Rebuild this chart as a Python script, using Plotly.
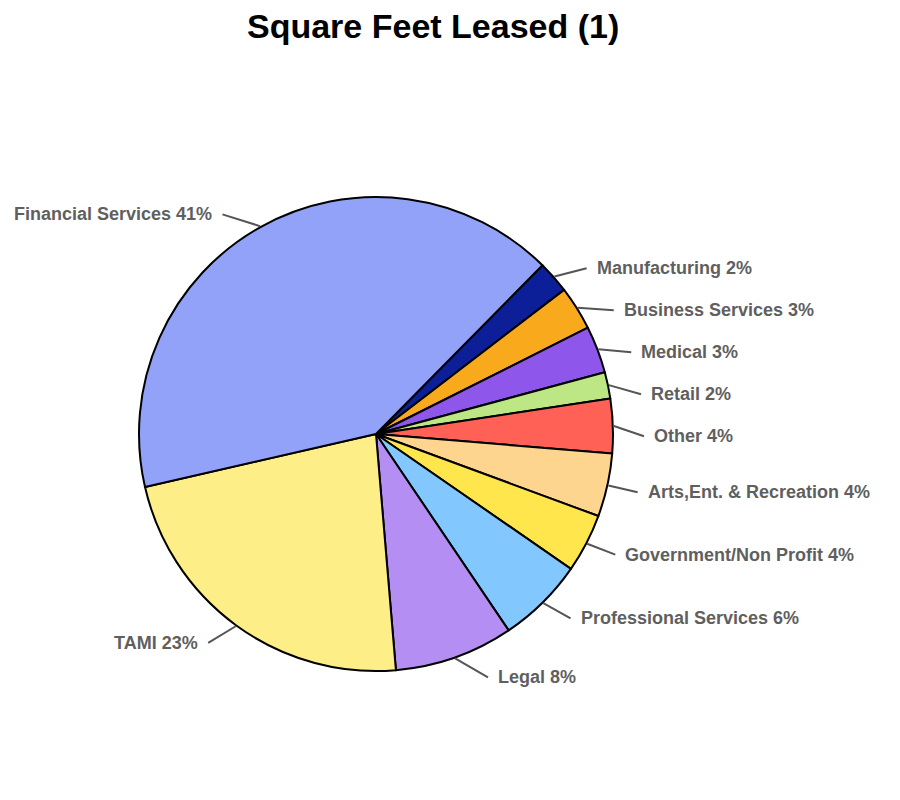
import math
import plotly.graph_objects as go

# slices in clockwise order, starting just right of 12 o'clock + rotation
LABELS = [
    'Manufacturing', 'Business Services', 'Medical', 'Retail', 'Other',
    'Arts,Ent. & Recreation', 'Government/Non Profit', 'Professional Services',
    'Legal', 'TAMI', 'Financial Services'
]
VALUES = [2.2, 3.0, 3.2, 1.8, 3.7, 4.3, 4.0, 5.9, 8.1, 22.7, 40.9]
COLORS = [
    '#0c1f99', '#f9aa1c', '#8f56eb', '#bce784', '#ff6156',
    '#fdd58f', '#ffe64d', '#82c8fe', '#b48ef2', '#feee88', '#91a2f8'
]

W, H = 900, 800
PAGE_OFFSET = 8  # body margin of the html page
CX, CY, R = 376 - PAGE_OFFSET, 434 - PAGE_OFFSET, 237
ROTATION = 44.6
LABEL_Y_R = 255
LABEL_Y_SHIFT = 3
LABEL_X_R = 268
MIN_GAP = 42


def px_to_paper(x, y):
    return x / W, 1 - y / H


def label_positions(values):
    total = sum(values)
    angles = []
    start = ROTATION
    for v in values:
        span = v / total * 360
        angles.append(start + span / 2)
        start += span

    pos = {}
    for side in (1, -1):
        idx = [i for i, a in enumerate(angles) if math.sin(math.radians(a)) * side > 0]
        ideal = {i: CY + LABEL_Y_SHIFT - LABEL_Y_R * math.cos(math.radians(angles[i])) for i in idx}
        prev = None
        for i in sorted(idx, key=lambda k: ideal[k]):
            y = ideal[i]
            if prev is not None and y < prev + MIN_GAP:
                y = prev + MIN_GAP
            dy = min(abs(y - CY), LABEL_X_R - 1)
            x = CX + side * math.sqrt(LABEL_X_R ** 2 - dy ** 2)
            pos[i] = (x, y, side)
            prev = y
    return angles, pos


fig = go.Figure(go.Pie(
    labels=LABELS,
    values=VALUES,
    sort=False,
    direction='clockwise',
    rotation=ROTATION,
    marker=dict(colors=COLORS, line=dict(color='black', width=2)),
    textinfo='none',
    hoverinfo='label+percent',
    showlegend=False,
    domain=dict(
        x=[(CX - R) / W, (CX + R) / W],
        y=[1 - (CY + R) / H, 1 - (CY - R) / H]
    )
))

angles, pos = label_positions(VALUES)
total = sum(VALUES)
annotations = []
shapes = []
for i, label in enumerate(LABELS):
    a = math.radians(angles[i])
    ex, ey = CX + (R + 1) * math.sin(a), CY - (R + 1) * math.cos(a)
    lx, ly, side = pos[i]
    x0, y0 = px_to_paper(ex, ey)
    x1, y1 = px_to_paper(lx, ly)
    shapes.append(dict(type='line', xref='paper', yref='paper',
                       x0=x0, y0=y0, x1=x1, y1=y1,
                       line=dict(color='#555555', width=2)))
    tx, ty = px_to_paper(lx + side * 8, ly)
    annotations.append(dict(
        text=f"<b>{label} {round(VALUES[i] / total * 100)}%</b>",
        x=tx, y=ty, xref='paper', yref='paper',
        xanchor='left' if side > 0 else 'right', yanchor='middle',
        showarrow=False,
        font=dict(family='Liberation Sans, Arial', size=18, color='#5f5f5f')
    ))

annotations.append(dict(
    text='<b>Square Feet Leased (1)</b>',
    x=(433 - PAGE_OFFSET) / W, y=1 - (26 - PAGE_OFFSET) / H, xref='paper', yref='paper',
    xanchor='center', yanchor='middle', showarrow=False,
    font=dict(family='Liberation Sans, Arial', size=34, color='black')
))

fig.update_layout(
    width=W, height=H,
    margin=dict(l=0, r=0, t=0, b=0),
    paper_bgcolor='white',
    plot_bgcolor='white',
    annotations=annotations,
    shapes=shapes
)
fig.write_html("out.html")
